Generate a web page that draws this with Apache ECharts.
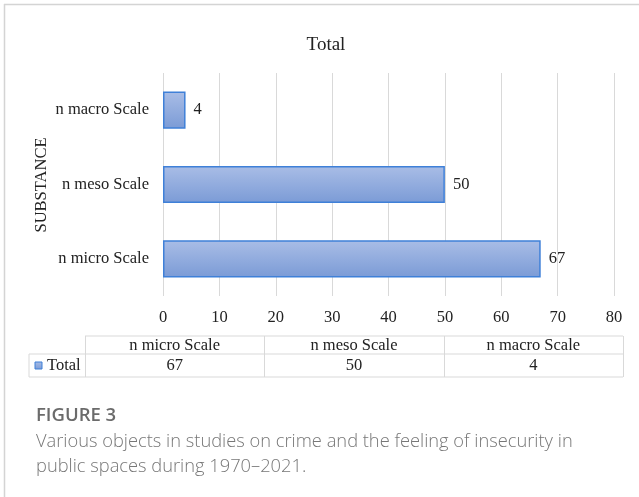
<!DOCTYPE html>
<html>
<head>
<meta charset="utf-8">
<script src="https://cdn.jsdelivr.net/npm/echarts@6/dist/echarts.min.js"></script>
<style>
  html, body { margin: 0; padding: 0; background: #fff; }
  #chart { width: 639px; height: 497px; }
</style>
</head>
<body>
<div id="chart"></div>
<script>
// Scale categories (bottom to top on the chart, left to right in the table)
const categories = ['n micro Scale', 'n meso Scale', 'n macro Scale'];
const totals = [67, 50, 4];
const seriesName = 'Total';
const axisTitle = 'SUBSTANCE';
const xTicks = [0, 10, 20, 30, 40, 50, 60, 70, 80];
const figureLabel = 'FIGURE 3';
const captionLines = [
  'Various objects in studies on crime and the feeling of insecurity in',
  'public spaces during 1970\u20132021.'
];

const SERIF = '"Liberation Serif", "Times New Roman", serif';
const SANS = '"Open Sans", "Noto Sans", sans-serif';
const barFill = new echarts.graphic.LinearGradient(0, 0, 0, 1, [
  { offset: 0, color: '#a9bde6' },
  { offset: 1, color: '#7b9bd6' }
]);
const barEdge = '#3f80d8';
const ruleColor = '#d9d9d9';
const textSize = 16.5;

// Data table geometry
const tbl = { left: 85, right: 623, keyLeft: 29, top: 336, mid: 354, bottom: 377 };
const colW = (tbl.right - tbl.left) / categories.length;

const tableGraphics = [];
// horizontal rules
tableGraphics.push({ type: 'line', shape: { x1: tbl.left, y1: tbl.top, x2: tbl.right, y2: tbl.top }, style: { stroke: ruleColor, lineWidth: 1 } });
tableGraphics.push({ type: 'line', shape: { x1: tbl.keyLeft, y1: tbl.mid, x2: tbl.right, y2: tbl.mid }, style: { stroke: ruleColor, lineWidth: 1 } });
tableGraphics.push({ type: 'line', shape: { x1: tbl.keyLeft, y1: tbl.bottom, x2: tbl.right, y2: tbl.bottom }, style: { stroke: ruleColor, lineWidth: 1 } });
// vertical rules
tableGraphics.push({ type: 'line', shape: { x1: tbl.keyLeft, y1: tbl.mid, x2: tbl.keyLeft, y2: tbl.bottom }, style: { stroke: ruleColor, lineWidth: 1 } });
for (let i = 0; i <= categories.length; i++) {
  const x = Math.round(tbl.left + i * colW) + 0.5;
  tableGraphics.push({ type: 'line', shape: { x1: x, y1: tbl.top, x2: x, y2: tbl.bottom }, style: { stroke: ruleColor, lineWidth: 1 } });
}
// header and value cells
categories.forEach(function (c, i) {
  const cx = tbl.left + (i + 0.5) * colW;
  tableGraphics.push({ type: 'text', x: cx, y: (tbl.top + tbl.mid) / 2 + 0.5, style: { text: c, font: textSize + 'px ' + SERIF, fill: '#222', textAlign: 'center', textVerticalAlign: 'middle' } });
  tableGraphics.push({ type: 'text', x: cx, y: (tbl.mid + tbl.bottom) / 2 + 0.5, style: { text: String(totals[i]), font: textSize + 'px ' + SERIF, fill: '#222', textAlign: 'center', textVerticalAlign: 'middle' } });
});
// legend key cell
tableGraphics.push({ type: 'rect', shape: { x: 35, y: 362, width: 7, height: 7 }, style: { fill: barFill, stroke: barEdge, lineWidth: 1 } });
tableGraphics.push({ type: 'text', x: 47, y: (tbl.mid + tbl.bottom) / 2 + 0.5, style: { text: seriesName, font: textSize + 'px ' + SERIF, fill: '#222', textAlign: 'left', textVerticalAlign: 'middle' } });

const chart = echarts.init(document.getElementById('chart'), null, { renderer: 'canvas' });

chart.setOption({
  animation: false,
  backgroundColor: '#fff',
  grid: { left: 163, right: 25, top: 73, bottom: 201, containLabel: false },
  xAxis: {
    type: 'value',
    min: xTicks[0],
    max: xTicks[xTicks.length - 1],
    interval: xTicks[1] - xTicks[0],
    axisLine: { show: false },
    axisTick: { show: false },
    splitLine: { show: true, lineStyle: { color: ruleColor, width: 1 } },
    axisLabel: { margin: 13, fontFamily: SERIF, fontSize: textSize, color: '#222' }
  },
  yAxis: {
    type: 'category',
    data: categories,
    axisLine: { show: false },
    axisTick: { show: false },
    splitLine: { show: false },
    axisLabel: { margin: 14, fontFamily: SERIF, fontSize: textSize, color: '#222' }
  },
  series: [{
    name: seriesName,
    type: 'bar',
    data: totals,
    barWidth: '50%',
    itemStyle: { color: barFill, borderColor: barEdge, borderWidth: 1.5 },
    label: { show: true, position: 'right', distance: 8, fontFamily: SERIF, fontSize: textSize, color: '#222' }
  }],
  graphic: [
    // frame edges
    { type: 'line', shape: { x1: 4, y1: 4.5, x2: 639, y2: 4.5 }, style: { stroke: '#d4d4d4', lineWidth: 1.5 } },
    { type: 'line', shape: { x1: 4.5, y1: 4, x2: 4.5, y2: 497 }, style: { stroke: '#d4d4d4', lineWidth: 1.5 } },
    // chart title
    { type: 'text', x: 326, y: 45, style: { text: seriesName, font: '19px ' + SERIF, fill: '#222', textAlign: 'center', textVerticalAlign: 'middle' } },
    // vertical axis title
    { type: 'text', x: 42, y: 185, rotation: Math.PI / 2, style: { text: axisTitle, font: textSize + 'px ' + SERIF, fill: '#222', textAlign: 'center', textVerticalAlign: 'middle' } },
    // figure caption
    { type: 'text', x: 36, y: 416, style: { text: figureLabel, font: '600 18.5px ' + SANS, fill: '#6b6b6b', textAlign: 'left', textVerticalAlign: 'middle' } },
    { type: 'text', x: 36, y: 442, style: { text: captionLines[0], font: '300 18.3px ' + SANS, fill: '#777', textAlign: 'left', textVerticalAlign: 'middle' } },
    { type: 'text', x: 36, y: 467, style: { text: captionLines[1], font: '300 18.3px ' + SANS, fill: '#777', textAlign: 'left', textVerticalAlign: 'middle' } }
  ].concat(tableGraphics)
});
</script>
</body>
</html>
